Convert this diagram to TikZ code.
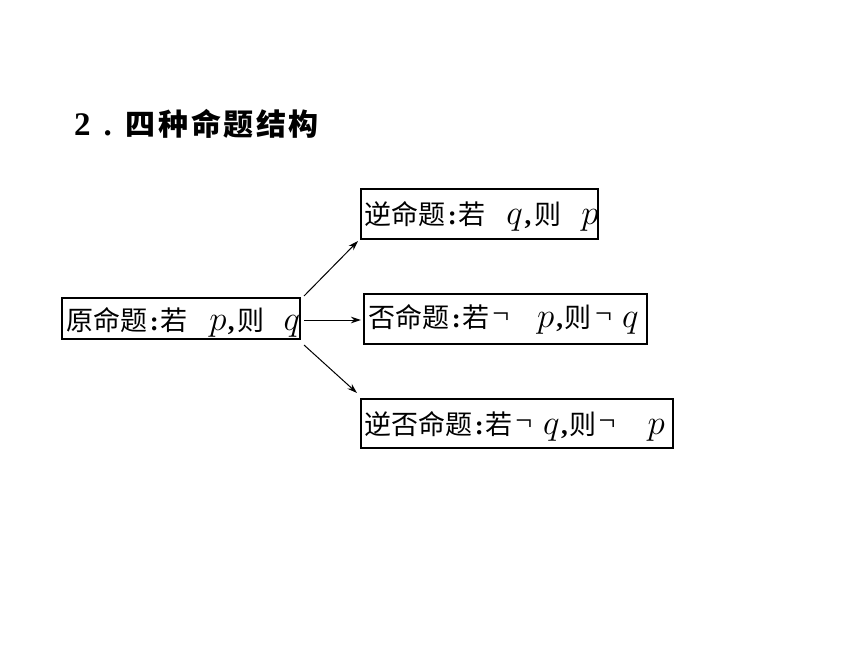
\RequirePackage{fix-cm}
\documentclass[tikz,border=0pt]{standalone}
\usepackage{fontspec}
\setmainfont{Liberation Serif}
\newfontfamily\cjk{Noto Sans CJK SC}
\usetikzlibrary{arrows.meta}
\tikzset{
  propbox/.style={draw, line width=1.2pt, inner sep=0pt, outer sep=0pt},
  proptext/.style={anchor=base west, inner sep=0pt, font=\fontsize{27}{30}\selectfont},
  conn/.style={line width=1pt, -{Stealth[length=10pt,width=6.5pt]}},
}
\newcommand{\cj}[1]{{\cjk #1}}
\newcommand{\mv}[1]{{\fontsize{35}{38}\selectfont$#1$}}
\newcommand{\negsym}{{\fontsize{30}{32}\selectfont\raisebox{3.5pt}{¬}}}
\newcommand{\cl}{\kern2pt\textbf{:}\kern1.5pt}
\newcommand{\cma}{\textbf{,}}
\newcommand{\tk}{\kern2.6pt}
\begin{document}
\begin{tikzpicture}[x=1pt,y=-1pt]
\useasboundingbox (0,0) rectangle (860,645);
\node[anchor=base west, inner sep=0pt] (title) at (74,135)
  {\bfseries\fontsize{33}{35}\selectfont 2\kern13pt.\kern14pt\fontsize{30}{32}\selectfont\cj{四}\tk\cj{种}\tk\cj{命}\tk\cj{题}\tk\cj{结}\tk\cj{构}};
% boxes
\node[propbox, minimum width=238pt, minimum height=41pt] (a) at (181,318.5) {};
\node[propbox, minimum width=237pt, minimum height=50pt] (b) at (479.5,214) {};
\node[propbox, minimum width=283pt, minimum height=50pt] (c) at (505.5,319) {};
\node[propbox, minimum width=312pt, minimum height=49pt] (d) at (517,423.5) {};
% texts
\node[proptext] (ta) at (66.6,330) {\cj{原命题}\cl\cj{若}\kern22pt\mv{p}\kern1.5pt\cma\kern3pt\cj{则}\kern19pt\mv{q}};
\node[proptext] (tb) at (364.6,224) {\cj{逆命题}\cl\cj{若}\kern21pt\mv{q}\kern2pt\cma\kern3pt\cj{则}\kern20pt\mv{p}};
\node[proptext] (tc) at (368.6,327) {\cj{否命题}\cl\cj{若}\kern3pt\negsym\kern28pt\mv{p}\kern2pt\cma\kern1.6pt\cj{则}\kern3.4pt\negsym\kern10pt\mv{q}};
\node[proptext] (td) at (364.6,434) {\cj{逆否命题}\cl\cj{若}\kern3pt\negsym\kern11pt\mv{q}\kern1.5pt\cma\kern1.3pt\cj{则}\kern2.4pt\negsym\kern32pt\mv{p}};
% connectors
\draw[conn] ([xshift=4pt,yshift=2pt]a.north east) -- ([xshift=-3pt,yshift=-2pt]b.south west);
\draw[conn] ([xshift=4pt,yshift=-1.5pt]a.east) -- ([xshift=-3pt,yshift=-1pt]c.west);
\draw[conn] ([xshift=4pt,yshift=-6pt]a.south east) -- ([xshift=-4pt,yshift=6pt]d.north west);
\end{tikzpicture}
\end{document}
